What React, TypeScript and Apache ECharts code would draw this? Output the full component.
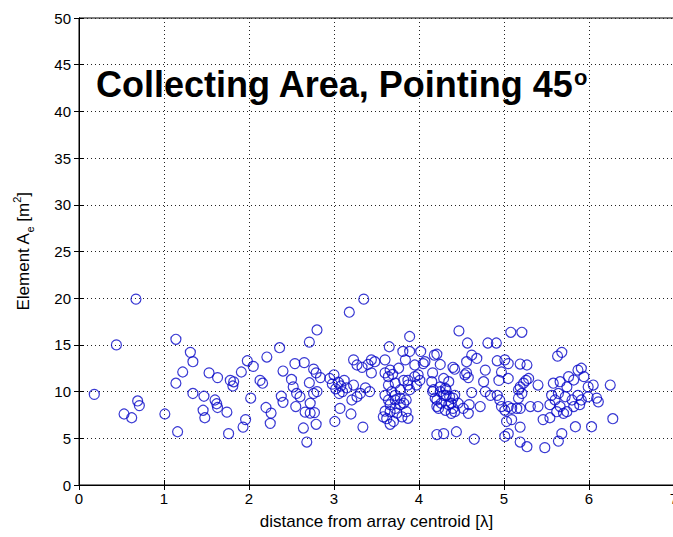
import React, { useEffect, useRef } from "react";
import * as echarts from "echarts";

// distance from array centroid [λ]
const distance: number[] = [
  0.18, 0.44, 0.53, 0.62, 0.67, 0.69, 0.71,
  1.01, 1.14, 1.16, 1.14, 1.22, 1.31, 1.34, 1.34, 1.46, 1.47, 1.48, 1.53, 1.60, 1.62, 1.63, 1.63, 1.74, 1.76, 1.78, 1.82, 1.81, 1.91, 1.93, 1.96, 1.98,
  2.02, 2.05, 2.13, 2.16, 2.20, 2.21, 2.25, 2.26, 2.36, 2.40, 2.38, 2.40, 2.50, 2.52, 2.54, 2.55, 2.56, 2.60, 2.64, 2.65, 2.66, 2.68, 2.71, 2.71, 2.72, 2.72, 2.76, 2.77, 2.76, 2.79, 2.79, 2.80, 2.80, 2.84,
  2.95, 3.00, 3.05, 3.08, 3.02, 3.10, 3.12, 3.06, 2.98, 3.15, 3.01, 3.07, 3.18, 3.20, 3.21, 3.23, 3.23, 3.27, 3.27, 3.31, 3.33, 3.34, 3.35, 3.37, 3.40, 3.44, 3.44, 3.42, 3.48,
  3.58, 3.60, 3.60, 3.60, 3.60, 3.62, 3.64, 3.64, 3.64, 3.65, 3.66, 3.66, 3.66, 3.66, 3.68, 3.69, 3.70, 3.72, 3.72, 3.72, 3.72, 3.74, 3.76, 3.78, 3.78, 3.78, 3.80, 3.81, 3.82, 3.82, 3.84, 3.85, 3.85, 3.87, 3.87, 3.87, 3.89, 3.89, 3.89, 3.95, 3.95, 3.97, 3.99,
  4.02, 4.01, 4.05, 4.07, 4.15, 4.16, 4.16, 4.17, 4.18, 4.19, 4.21, 4.21, 4.21, 4.21, 4.23, 4.25, 4.25, 4.25, 4.26, 4.29, 4.29, 4.29, 4.31, 4.31, 4.32, 4.32, 4.35, 4.35, 4.36, 4.38, 4.38, 4.40, 4.40, 4.40, 4.42, 4.42, 4.42, 4.44, 4.46, 4.47,
  4.52, 4.54, 4.56, 4.56, 4.57, 4.58, 4.58, 4.59, 4.62, 4.62, 4.65, 4.68, 4.72, 4.76, 4.78, 4.78, 4.81, 4.84, 4.91, 4.92, 4.92, 4.94, 4.95, 4.97, 4.97,
  5.01, 5.01, 5.01, 5.03, 5.05, 5.05, 5.05, 5.05, 5.08, 5.09, 5.09, 5.15, 5.17, 5.17, 5.19, 5.19, 5.19, 5.19, 5.19, 5.21, 5.21, 5.23, 5.26, 5.27, 5.27, 5.29, 5.31, 5.40, 5.40, 5.46, 5.48,
  5.54, 5.54, 5.56, 5.58, 5.60, 5.62, 5.63, 5.68, 5.64, 5.64, 5.66, 5.66, 5.68, 5.70, 5.72, 5.74, 5.74, 5.76, 5.80, 5.82, 5.82, 5.84, 5.87, 5.87, 5.91, 5.89, 5.91, 5.94, 5.99, 5.99, 6.03, 6.05, 6.09, 6.11, 6.25, 6.28,
];

// Element A_e [m^2]
const area: number[] = [
  9.7, 15.0, 7.6, 7.2, 19.9, 9.0, 8.5,
  7.6, 15.6, 5.7, 10.9, 12.1, 14.2, 13.2, 9.8, 8.0, 9.5, 7.2, 12.0, 9.1, 8.7, 8.3, 11.5, 7.8, 5.5, 11.2, 11.05, 10.6, 12.1, 6.2, 7.0, 13.3,
  9.3, 12.7, 11.2, 10.9, 8.3, 13.7, 6.6, 7.7, 14.7, 12.2, 9.5, 8.85, 11.3, 10.5, 13.0, 8.4, 9.8, 9.45, 6.1, 13.1, 7.8, 4.6, 15.3, 10.95, 7.7, 8.75, 12.4, 7.75, 9.8, 12.0, 6.5, 16.6, 10.0, 11.5,
  11.4, 11.8, 11.0, 10.6, 10.3, 10.0, 11.2, 9.8, 10.8, 10.4, 6.8, 8.2, 18.5, 7.6, 9.1, 10.7, 13.4, 12.85, 9.45, 9.8, 12.6, 6.2, 19.9, 10.4, 12.9, 13.4, 12.0, 10.0, 13.2,
  7.3, 13.4, 12.0, 9.6, 7.9, 7.1, 11.6, 10.7, 9.1, 14.8, 12.3, 8.6, 7.85, 6.5, 10.0, 11.85, 6.8, 10.9, 9.6, 9.1, 8.2, 7.7, 12.5, 10.2, 9.3, 8.6, 7.3, 14.3, 8.75, 11.2, 13.4, 9.1, 7.85, 11.2, 10.7, 7.14, 15.9, 14.3, 10.2, 12.85, 11.6, 10.7, 11.8,
  14.3, 11.2, 13.0, 13.2, 11.06, 12.0, 10.0, 10.2, 13.9, 9.3, 14.0, 9.1, 8.4, 5.4, 8.2, 12.9, 10.5, 10.0, 8.75, 11.4, 9.6, 5.5, 10.35, 8.0, 10.2, 9.6, 11.06, 8.6, 9.45, 8.75, 7.67, 12.6, 9.3, 8.2, 12.4, 7.85, 9.6, 5.7, 8.75, 16.5,
  8.2, 11.8, 12.0, 13.2, 15.2, 11.5, 7.67, 8.6, 13.9, 9.9, 4.9, 13.55, 8.4, 11.06, 12.3, 10.0, 15.2, 9.6, 15.2, 13.3, 9.6, 11.2, 9.1, 12.1, 8.4,
  13.4, 8.0, 5.2, 6.8, 13.0, 11.4, 8.4, 5.5, 16.35, 8.2, 7.0, 8.2, 10.2, 9.3, 12.95, 10.5, 8.2, 6.2, 4.6, 16.35, 9.8, 10.9, 11.2, 12.85, 4.1, 11.4, 8.4, 10.7, 8.4, 7.0, 4.0,
  7.2, 8.6, 9.6, 10.9, 9.1, 7.85, 13.8, 14.2, 9.8, 4.7, 11.06, 8.4, 5.5, 7.67, 9.45, 10.5, 7.85, 11.6, 9.1, 11.24, 8.4, 6.24, 9.6, 12.3, 12.5, 8.6, 9.1, 11.6, 9.45, 10.5, 6.24, 10.7, 9.3, 8.9, 10.7, 7.1,
];

const xTicks = { min: 0, max: 7, interval: 1 };
const yTicks = { min: 0, max: 50, interval: 5 };

const titleText = "Collecting Area, Pointing 45";
const xName = "distance from array centroid [λ]";

const FONT = '"Liberation Sans", Arial, Helvetica, sans-serif';

export default function App() {
  const ref = useRef<HTMLDivElement>(null);

  useEffect(() => {
    if (!ref.current) return;
    const chart = echarts.init(ref.current, null, { renderer: "svg" });
    const points = distance.map((d, i) => [d, area[i]]);

    const gridLine = { show: true, lineStyle: { color: "#222", width: 1, type: [1, 3] as any } };
    const commonAxisLine = { show: true, lineStyle: { color: "#000", width: 1 } };

    chart.setOption({
      animation: false,
      backgroundColor: "#fff",
      grid: {
        left: 79,
        top: 18,
        width: 595,
        height: 467,
        show: true,
        borderColor: "#000",
        borderWidth: 1,
        containLabel: false,
        outerBoundsMode: "none",
      },
      xAxis: [
        {
          type: "value",
          position: "bottom",
          min: xTicks.min,
          max: xTicks.max,
          interval: xTicks.interval,
          axisLine: commonAxisLine,
          axisTick: { show: true, inside: true, length: 5, lineStyle: { color: "#000" } },
          axisLabel: { color: "#000", fontFamily: FONT, fontSize: 15, margin: 6 },
          splitLine: gridLine,
          name: xName,
          nameLocation: "middle",
          nameGap: 28,
          nameTextStyle: { color: "#000", fontFamily: FONT, fontSize: 17 },
        },
        {
          type: "value",
          position: "top",
          min: xTicks.min,
          max: xTicks.max,
          interval: xTicks.interval,
          axisLine: commonAxisLine,
          axisTick: { show: true, inside: true, length: 5, lineStyle: { color: "#000" } },
          axisLabel: { show: false },
          splitLine: { show: false },
        },
      ],
      yAxis: [
        {
          type: "value",
          position: "left",
          min: yTicks.min,
          max: yTicks.max,
          interval: yTicks.interval,
          axisLine: commonAxisLine,
          axisTick: { show: true, inside: true, length: 5, lineStyle: { color: "#000" } },
          axisLabel: { color: "#000", fontFamily: FONT, fontSize: 15, margin: 8 },
          splitLine: gridLine,
          name: "{a|Element A}{b|e}{a| [m}{c|2}{a|]}",
          nameLocation: "middle",
          nameGap: 44,
          nameTextStyle: {
            color: "#000",
            fontFamily: FONT,
            fontSize: 17,
            rich: {
              a: { fontFamily: FONT, fontSize: 17, color: "#000", lineHeight: 24 },
              b: { fontFamily: FONT, fontSize: 11, color: "#000", verticalAlign: "bottom", lineHeight: 14 },
              c: { fontFamily: FONT, fontSize: 11, color: "#000", verticalAlign: "top", lineHeight: 14 },
            },
          },
        },
        {
          type: "value",
          position: "right",
          min: yTicks.min,
          max: yTicks.max,
          interval: yTicks.interval,
          axisLine: commonAxisLine,
          axisTick: { show: true, inside: true, length: 5, lineStyle: { color: "#000" } },
          axisLabel: { show: false },
          splitLine: { show: false },
        },
      ],
      graphic: [
        {
          type: "text",
          x: 96,
          y: 66,
          z: 100,
          style: {
            text: "{t|" + titleText + "}{s|o}",
            verticalAlign: "top",
            rich: {
              t: { fontFamily: FONT, fontWeight: "bold", fontSize: 36, lineHeight: 36, fill: "#000" },
              s: { fontFamily: FONT, fontWeight: "bold", fontSize: 22, lineHeight: 14, verticalAlign: "top", fill: "#000" },
            },
          },
        },
      ],
      series: [
        {
          type: "scatter",
          xAxisIndex: 0,
          yAxisIndex: 0,
          data: points,
          symbol: "circle",
          symbolSize: 10,
          itemStyle: { color: "rgba(0,0,0,0)", borderColor: "#0808c8", borderWidth: 1.2 },
          emphasis: { disabled: true },
          silent: true,
        },
      ],
    });

    return () => chart.dispose();
  }, []);

  return (
    <div
      ref={ref}
      style={{ position: "fixed", left: 0, top: 0, width: 673, height: 537, background: "#fff" }}
    />
  );
}
